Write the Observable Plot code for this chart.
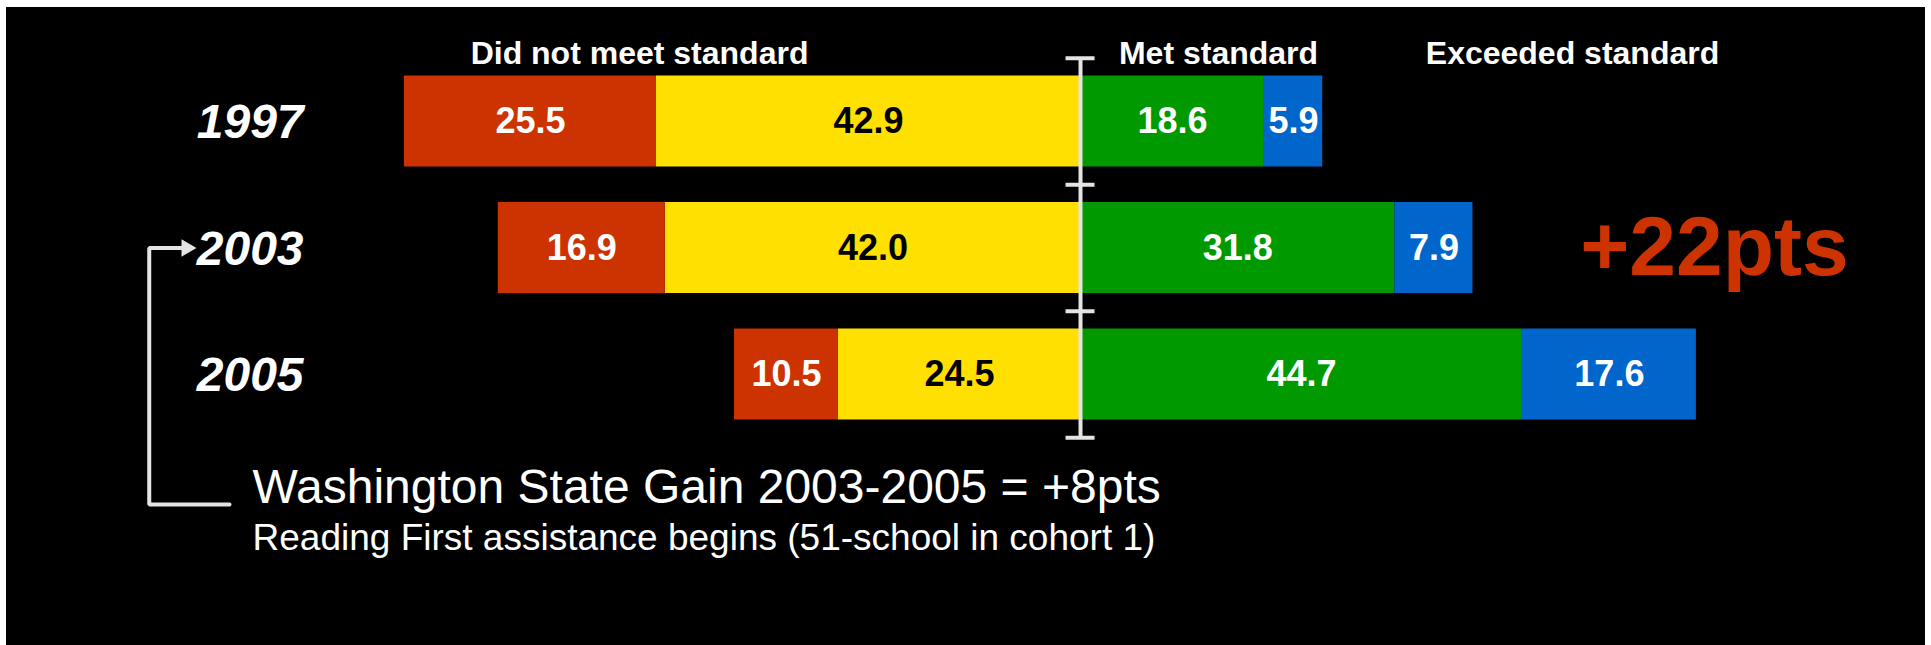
<!DOCTYPE html>
<html>
<head>
<meta charset="utf-8">
<script src="https://cdn.jsdelivr.net/npm/d3@7"></script>
<script src="https://cdn.jsdelivr.net/npm/@observablehq/plot@0.6"></script>
<style>
  html, body { margin: 0; padding: 0; background: #ffffff; }
  #chart { position: absolute; left: 6px; top: 7px; width: 1919px; height: 638px; background: #000; }
  #chart svg { display: block; }
</style>
</head>
<body>
<div id="chart"></div>
<script>
// ---- Data ----
const years = ["1997", "2003", "2005"];
const levels = ["Level 2", "Level 1", "Level 3", "Level 4"]; // stacking order from the centre line outward
const level1 = [25.5, 16.9, 10.5]; // did not meet standard (far)
const level2 = [42.9, 42.0, 24.5]; // did not meet standard (near)
const level3 = [18.6, 31.8, 44.7]; // met standard
const level4 = [5.9, 7.9, 17.6];   // exceeded standard
const headers = ["Did not meet standard", "Met standard", "Exceeded standard"];
const gainLabel = "+22pts";
const noteLines = ["Washington State Gain 2003-2005 = +8pts",
                   "Reading First assistance begins (51-school in cohort 1)"];

// ---- Styles ----
const levelColors = {"Level 1": "#CC3300", "Level 2": "#FFE000", "Level 3": "#009900", "Level 4": "#0066CC"};
const levelText = {"Level 1": "white", "Level 2": "black", "Level 3": "white", "Level 4": "white"};
const lineColor = "#e4e4e4";
const font = "'Liberation Sans', Arial, Helvetica, sans-serif";

// ---- Table built from the arrays (negative = did not meet) ----
const rows = [];
years.forEach((year, i) => {
  rows.push({year, i, level: "Level 2", value: -level2[i]});
  rows.push({year, i, level: "Level 1", value: -level1[i]});
  rows.push({year, i, level: "Level 3", value: level3[i]});
  rows.push({year, i, level: "Level 4", value: level4[i]});
});

const edges = d3.range(years.length + 1).map(k => k - 0.5);
const bracket = [
  {x: -90.44, y: 1}, {x: -94.21, y: 1}, {x: -94.21, y: 3.028}, {x: -86.09, y: 3.028}
];

const chart = Plot.plot({
  width: 1919,
  height: 638,
  marginTop: 0, marginRight: 0, marginBottom: 0, marginLeft: 0,
  x: {domain: [-108.65, 85.48], axis: null},
  y: {domain: [-0.9012, 4.1423], reverse: true, axis: null},
  color: {type: "identity"},
  style: {background: "black", fontFamily: font, overflow: "visible"},
  marks: [
    // stacked diverging bars
    Plot.rect(rows, Plot.stackX({
      x: "value",
      y1: d => d.i - 0.5,
      y2: d => d.i + 0.5,
      insetTop: 17.75, insetBottom: 17.75,
      fill: d => levelColors[d.level]
    })),
    // value labels
    Plot.text(rows, Plot.stackX({
      x: "value",
      y: "i",
      text: d => Math.abs(d.value).toFixed(1),
      fill: d => levelText[d.level],
      fontSize: 36, fontWeight: "bold"
    })),
    // centre line with end/separator ticks
    Plot.ruleX([0], {y1: -0.5, y2: years.length - 0.5, stroke: lineColor, strokeWidth: 4}),
    Plot.ruleY(edges, {x1: -1.467, x2: 1.467, stroke: lineColor, strokeWidth: 4}),
    // year labels
    Plot.text(years, {
      x: -78.6, y: (d, i) => i, text: d => d, dy: 1.5,
      textAnchor: "end", fontSize: 48, fontWeight: "bold", fontStyle: "italic", fill: "white"
    }),
    // column headers
    Plot.text(headers, {
      x: [-44.61, 13.96, 49.77], y: -0.539, text: d => d,
      fontSize: 32, fontWeight: "bold", fill: "white"
    }),
    // gain annotation
    Plot.text([gainLabel], {
      x: 64.14, y: 1, text: d => d,
      fontSize: 84, fontWeight: "bold", fill: "#CC3300"
    }),
    // bracket with arrow to 2003
    Plot.line(bracket, {x: "x", y: "y", stroke: lineColor, strokeWidth: 4, strokeLinejoin: "miter", curve: "linear"}),
    Plot.dot([bracket[0]], {x: "x", y: "y", symbol: "triangle", rotate: 90, r: 6.43, fill: lineColor, stroke: null}),
    // notes
    Plot.text([noteLines[0]], {
      x: -83.76, y: 2.893, text: d => d, textAnchor: "start",
      fontSize: 48, fill: "white"
    }),
    Plot.text([noteLines[1]], {
      x: -83.76, y: 3.290, text: d => d, textAnchor: "start",
      fontSize: 37, fill: "white"
    })
  ]
});

document.getElementById("chart").appendChild(chart);
</script>
</body>
</html>
